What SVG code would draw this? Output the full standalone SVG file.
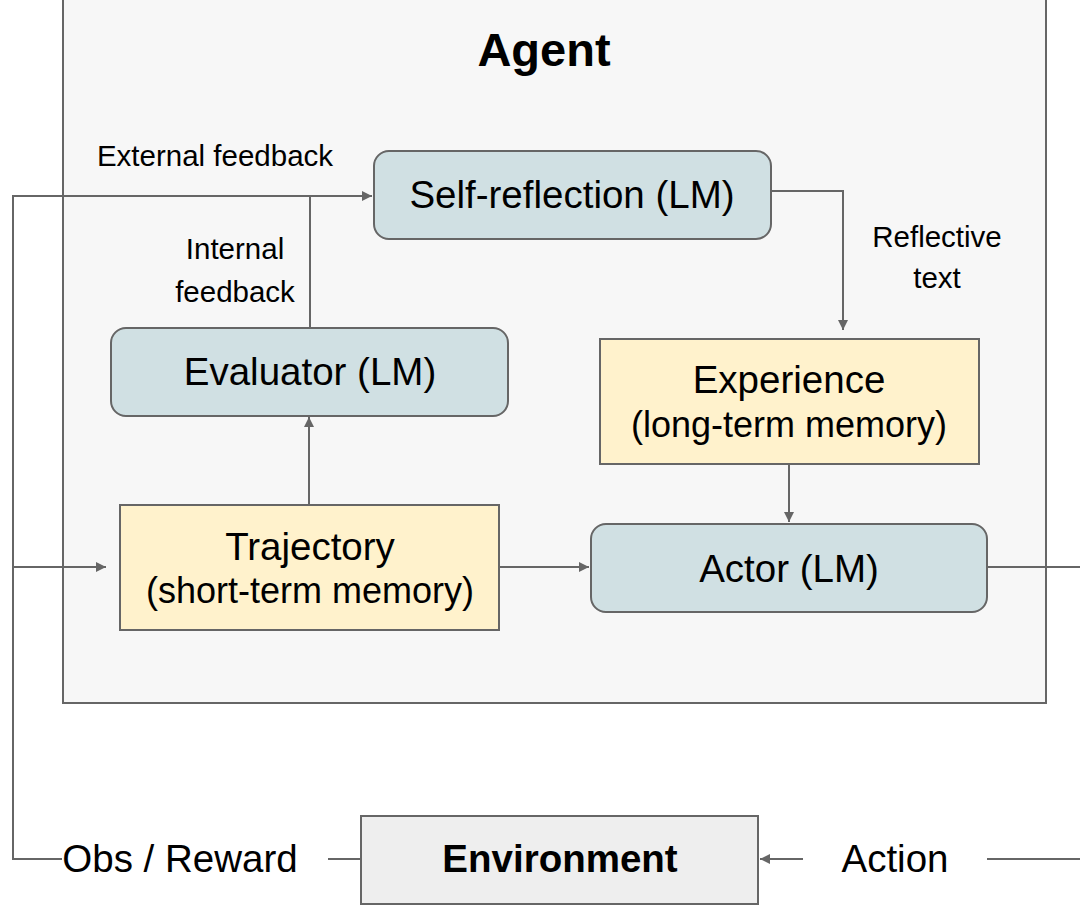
<svg xmlns="http://www.w3.org/2000/svg" width="1080" height="911" viewBox="0 0 1080 911">
<defs>
<style>
.box{stroke:#666666;stroke-width:2}
.lm{fill:#d0e0e3}
.mem{fill:#fff2cc}
.t{font-family:"Liberation Sans",Arial,sans-serif;fill:#000;text-anchor:middle}
.big{font-size:38.5px}
.sub{font-size:36px}
.lbl{font-size:29.5px}
.conn{fill:none;stroke:#666666;stroke-width:2}
</style>
<marker id="ah" viewBox="0 0 10 10" refX="10" refY="5" markerWidth="12" markerHeight="10" markerUnits="userSpaceOnUse" orient="auto">
<path d="M0,0 L10,5 L0,10 Z" fill="#666666"/>
</marker>
</defs>
<rect width="1080" height="911" fill="#ffffff"/>
<g id="agent">
<rect class="box" x="63" y="-10" width="983" height="713" fill="#f7f7f7"/>
<text class="t" x="544" y="66" font-size="47" font-weight="bold">Agent</text>
</g>
<g id="connectors">
<path class="conn" d="M62,859 L13,859 L13,196 L372,196" marker-end="url(#ah)"/>
<path class="conn" d="M13,567 L106,567" marker-end="url(#ah)"/>
<path class="conn" d="M310,328 L310,196 L330,196"/>
<path class="conn" d="M771,191 L843,191 L843,330" marker-end="url(#ah)"/>
<path class="conn" d="M789,464 L789,522" marker-end="url(#ah)"/>
<path class="conn" d="M309,505 L309,417" marker-end="url(#ah)"/>
<path class="conn" d="M499,567 L589,567" marker-end="url(#ah)"/>
<path class="conn" d="M987,567 L1080,567"/>
<path class="conn" d="M328,859 L361,859"/>
<path class="conn" d="M1080,859 L987,859"/>
<path class="conn" d="M803,859 L760,859" marker-end="url(#ah)"/>
<text class="t lbl" x="215" y="166">External feedback</text>
<text class="t lbl" x="235" y="259">Internal</text>
<text class="t lbl" x="235" y="302">feedback</text>
<text class="t lbl" x="937" y="247">Reflective</text>
<text class="t lbl" x="937" y="288">text</text>
<text class="t big" x="180" y="872">Obs / Reward</text>
<text class="t big" x="895" y="872">Action</text>
</g>
<g id="self-reflection">
<rect class="box lm" x="374" y="151" width="397" height="88" rx="15"/>
<text class="t big" x="572" y="208">Self-reflection (LM)</text>
</g>
<g id="evaluator">
<rect class="box lm" x="111" y="328" width="397" height="88" rx="15"/>
<text class="t big" x="310" y="385">Evaluator (LM)</text>
</g>
<g id="experience">
<rect class="box mem" x="600" y="339" width="379" height="125"/>
<text class="t big" x="789" y="393">Experience</text>
<text class="t sub" x="789" y="437">(long-term memory)</text>
</g>
<g id="trajectory">
<rect class="box mem" x="120" y="505" width="379" height="125"/>
<text class="t big" x="310" y="560">Trajectory</text>
<text class="t sub" x="310" y="603">(short-term memory)</text>
</g>
<g id="actor">
<rect class="box lm" x="591" y="524" width="396" height="88" rx="15"/>
<text class="t big" x="789" y="582">Actor (LM)</text>
</g>
<g id="environment">
<rect class="box" x="361" y="816" width="397" height="88" fill="#eeeeee"/>
<text class="t big" x="560" y="872" font-weight="bold">Environment</text>
</g>
</svg>
